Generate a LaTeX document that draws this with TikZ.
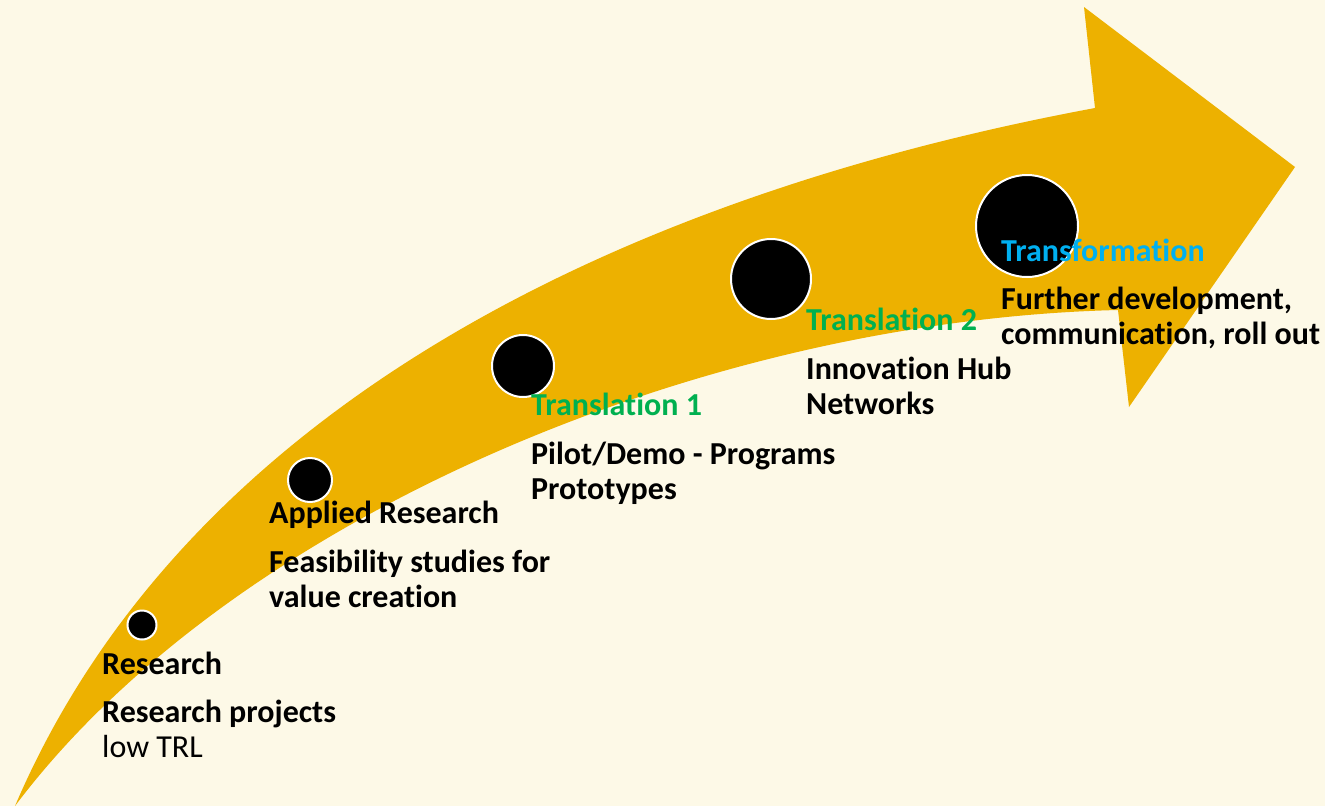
\documentclass[tikz,border=0pt]{standalone}
\usepackage{fontspec}
\setmainfont[Ligatures=NoCommon]{Carlito}
\definecolor{fond}{HTML}{FDF9E7}
\definecolor{or}{HTML}{EDB100}
\definecolor{vert}{HTML}{00B050}
\definecolor{bleu}{HTML}{00B0F0}
\def\largeur{1325}
\def\hauteur{806}

\begin{document}
\begin{tikzpicture}[x=1pt, y=-1pt,
    pastille/.style={circle, fill=black, draw=white, line width=2pt, inner sep=0pt},
    etape/.style={anchor=base west, inner sep=0pt, font=\fontsize{32}{35}\selectfont\bfseries},
    texte/.style={anchor=base west, inner sep=0pt, align=left, font=\fontsize{32}{35}\selectfont}]
    \fill[fond] (0,0) rectangle (\largeur,\hauteur);
    \useasboundingbox (0,0) rectangle (\largeur,\hauteur);
% la fleche
    \fill[or] (15,806) .. controls (180,420) and (600,200) .. (1095,108) -- (1084,7) -- (1295,167)
        -- (1129,407) -- (1118,310) .. controls (700,320) and (230,520) .. (15,806) -- cycle;
% les pastilles
    \node[pastille, minimum size=29pt] (p1) at (142,625) {};
    \node[pastille, minimum size=44pt] (p2) at (310,480) {};
    \node[pastille, minimum size=62pt] (p3) at (523,366) {};
    \node[pastille, minimum size=80pt] (p4) at (771,279) {};
    \node[pastille, minimum size=102pt] (p5) at (1027,226) {};
% les textes (base = derniere ligne)
    \node[etape] (research) at (102,674) {Research};
    \node[texte] (researchtxt) at (102,757) {\textbf{Research projects}\\low TRL};
    \node[etape] (applied) at (269,523) {Applied Research};
    \node[texte] (appliedtxt) at (269,607) {\textbf{Feasibility studies for}\\\textbf{value creation}};
    \node[etape, vert] (trans1) at (531,415) {Translation 1};
    \node[texte] (trans1txt) at (531,499) {\textbf{Pilot/Demo - Programs}\\\textbf{Prototypes}};
    \node[etape, vert] (trans2) at (806,330) {Translation 2};
    \node[texte] (trans2txt) at (806,414) {\textbf{Innovation Hub}\\\textbf{Networks}};
    \node[etape, bleu] (transfo) at (1001,261) {Transformation};
    \node[texte] (transfotxt) at (1001,344) {\textbf{Further development,}\\\textbf{communication, roll out}};
\end{tikzpicture}
\end{document}
